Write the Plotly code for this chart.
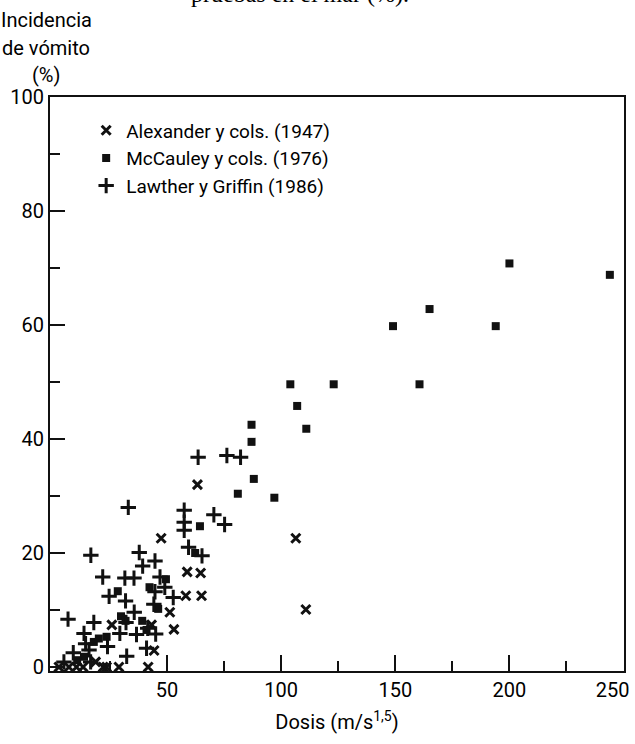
import plotly.graph_objects as go

# ---- data ----
alex_x = [2.6, 7.0, 10.3, 13.2, 22.0, 23.5, 28.9, 41.7, 18.7, 44.3, 43.2, 25.8, 53.0, 51.2,
          47.4, 58.8, 64.7, 58.2, 65.1, 63.3, 106.4, 110.8]
alex_y = [0.0, 0.0, 0.0, 0.0, 0.0, 0.0, 0.0, 0.0, 0.9, 2.9, 7.4, 7.4, 6.6, 9.6,
          22.6, 16.7, 16.5, 12.5, 12.5, 32.0, 22.6, 10.1]

mcc_x = [200.0, 244.0, 165.0, 149.0, 194.0, 104.0, 123.0, 160.6, 107.0, 111.0, 87.0, 87.0,
         88.0, 81.0, 97.0, 64.4, 62.3, 49.5, 42.3, 46.1, 28.4, 29.8, 31.8, 39.1, 41.0,
         23.5, 17.9, 20.1, 13.6, 10.6]
mcc_y = [70.8, 68.8, 62.8, 59.8, 59.8, 49.6, 49.6, 49.6, 45.8, 41.8, 42.5, 39.5,
         33.0, 30.4, 29.7, 24.7, 20.0, 15.4, 14.0, 10.2, 13.3, 8.9, 8.1, 8.1, 6.5,
         5.3, 4.4, 5.0, 1.8, 1.2]

law_x = [33.0, 16.6, 37.8, 39.3, 44.7, 21.8, 31.5, 35.5, 46.9, 63.6, 76.2, 82.2, 57.5, 57.5,
         57.5, 70.5, 75.2, 59.4, 65.3, 24.6, 31.8, 44.7, 49.0, 52.7, 35.6, 44.2, 6.6, 17.9,
         29.3, 36.6, 45.0, 13.6, 14.3, 23.9, 8.9, 15.8, 32.3, 41.0, 4.8, 16.5, 32.0, 41.5]
law_y = [28.0, 19.6, 20.1, 17.7, 18.6, 15.8, 15.6, 15.6, 15.8, 36.8, 37.1, 36.8, 27.5, 25.4,
         24.0, 26.7, 25.0, 21.0, 19.5, 12.4, 11.6, 13.2, 14.0, 12.2, 9.6, 11.0, 8.4, 7.8,
         5.9, 5.7, 5.8, 5.9, 4.1, 3.6, 2.5, 3.0, 1.9, 3.3, 0.9, 0.9, 7.8, 6.8]

series_names = ["Alexander y cols. (1947)", "McCauley y cols. (1976)", "Lawther y Griffin (1986)"]

x_major = [50, 100, 150, 200, 250]
x_minor = [25, 75, 125, 175, 225]
y_major = [0, 20, 40, 60, 80, 100]
y_minor = [10, 30, 50, 70, 90]

FONT = "Roboto, Lato, sans-serif"
INK = "#111111"
X_RANGE = [-1.3, 250.2]

fig = go.Figure()
fig.add_trace(go.Scatter(x=alex_x, y=alex_y, mode="markers", name=series_names[0],
                         marker=dict(symbol="x-thin", size=9, color=INK,
                                     line=dict(width=3, color=INK))))
fig.add_trace(go.Scatter(x=mcc_x, y=mcc_y, mode="markers", name=series_names[1],
                         marker=dict(symbol="square", size=8, color=INK,
                                     line=dict(width=0))))
fig.add_trace(go.Scatter(x=law_x, y=law_y, mode="markers", name=series_names[2],
                         marker=dict(symbol="cross-thin", size=11, color=INK,
                                     line=dict(width=3, color=INK))))
# carrier for the overlaid axis that labels the last tick (no marks)
fig.add_trace(go.Scatter(x=[], y=[], xaxis="x2", showlegend=False, hoverinfo="skip"))

# labels: all but the last one centred under their tick on the main axis;
# the last one (at the right border) is right-aligned on an overlaid axis
main_text = [str(v) for v in x_major[:-1]] + [""]

fig.update_layout(
    width=635, height=744,
    margin=dict(l=50, r=11, t=97, b=73, autoexpand=False),
    paper_bgcolor="white", plot_bgcolor="white",
    font=dict(family=FONT, size=20, color="black"),
    showlegend=True,
    legend=dict(x=0.063, y=0.975, xanchor="left", yanchor="top",
                bgcolor="rgba(0,0,0,0)", font=dict(family=FONT, size=19, color="black"),
                itemsizing="trace"),
    xaxis=dict(
        range=X_RANGE, showgrid=False, zeroline=False, automargin=False,
        showline=True, linewidth=2, linecolor=INK, mirror=True,
        tickmode="array", tickvals=x_major, ticktext=main_text,
        ticks="inside", ticklen=16, tickwidth=2, tickcolor=INK,
        minor=dict(tickvals=x_minor, ticks="inside", ticklen=10, tickwidth=2,
                   tickcolor=INK, showgrid=False),
        tickfont=dict(family=FONT, size=20),
        title=dict(text="Dosis (m/s<sup>1,5</sup>)", font=dict(family=FONT, size=20), standoff=14),
    ),
    xaxis2=dict(overlaying="x", anchor="y", side="bottom", range=X_RANGE,
                showgrid=False, zeroline=False, showline=False, automargin=False,
                tickmode="array", tickvals=[x_major[-1]], ticktext=[str(x_major[-1])],
                ticks="", ticklabelposition="outside left", ticklabelshift=6,
                ticklabelstandoff=5, tickfont=dict(family=FONT, size=20)),
    yaxis=dict(
        range=[-0.7, 100], showgrid=False, zeroline=False, automargin=False,
        showline=True, linewidth=2, linecolor=INK, mirror=True,
        tickmode="array", tickvals=y_major, ticktext=[str(v) for v in y_major],
        ticks="inside", ticklen=15, tickwidth=2, tickcolor=INK,
        minor=dict(tickvals=y_minor, ticks="inside", ticklen=10, tickwidth=2,
                   tickcolor=INK, showgrid=False),
        tickfont=dict(family=FONT, size=20),
    ),
)

# y-axis title in three lines above the axis
for txt, ypx in [("Incidencia", 20), ("de vómito", 48), ("(%)", 75)]:
    fig.add_annotation(text=txt, xref="paper", yref="paper",
                       x=(46 - 50) / 574, y=1 + (97 - ypx) / 574,
                       xanchor="center", yanchor="middle", showarrow=False,
                       font=dict(family=FONT, size=20, color="black"))

# caption text cut at the top edge of the picture
fig.add_annotation(text="pruebas en el mar (%).", xref="paper", yref="paper",
                   x=(300 - 50) / 574, y=1 + (97 - 9) / 574,
                   xanchor="center", yanchor="bottom", showarrow=False,
                   font=dict(family="Liberation Serif, DejaVu Serif, serif", size=24, color="black"))

fig.write_html("out.html")
